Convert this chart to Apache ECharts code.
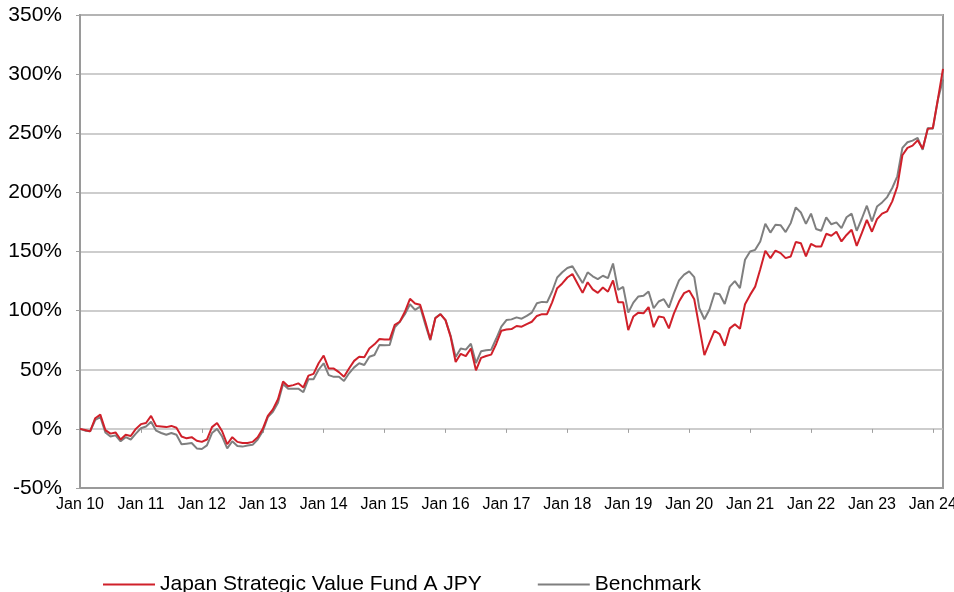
<!DOCTYPE html>
<html>
<head>
<meta charset="utf-8">
<script src="https://cdn.jsdelivr.net/npm/echarts@6/dist/echarts.min.js"></script>
<style>
  html, body { margin: 0; padding: 0; background: #fff; }
  #chart { width: 954px; height: 592px; }
</style>
</head>
<body>
<div id="chart"></div>
<script>
// monthly cumulative performance (%), Jan 2010 .. Mar 2024
const monthNames = ["Jan", "Feb", "Mar", "Apr", "May", "Jun", "Jul", "Aug", "Sep", "Oct", "Nov", "Dec"];
const years = ["10", "11", "12", "13", "14", "15", "16", "17", "18", "19", "20", "21", "22", "23", "24"];

const fund = [
  0, -1, -2, 9, 12, -1, -4, -3, -9, -5, -6, 0,
  4, 5, 11, 2.5, 2, 1.5, 2.5, 1, -6.5, -8, -7, -10,
  -11, -9, 1.5, 5, -2, -13, -7, -11, -12, -12, -11, -7,
  0, 11, 16.5, 25, 40, 36, 37, 38.5, 35, 45, 46.5, 55.5,
  62, 51, 51, 48, 44, 51, 57.5, 61, 60.5, 68, 71.5, 76,
  75.5, 75.5, 88, 90.6, 99, 110, 106, 105, 91, 75.5, 93.5, 97,
  92, 78, 56.5, 63.5, 61.5, 68, 49.5, 60, 61.6, 62.8, 72, 83,
  84, 84.4, 87, 86.4, 88.6, 90.6, 95.5, 97, 97, 107, 119, 123,
  128, 131, 123, 115, 124, 118, 115, 119.6, 116, 125.6, 107, 107,
  83.5, 95, 98.3, 97.7, 103, 86, 95, 94.3, 85, 97.7, 107.7, 114.8,
  117, 109.6, 86, 62.4, 72.9, 83, 80.2, 70.3, 85, 88.4, 84.7, 105.4,
  113.3, 120.3, 135, 150.6, 144.4, 150.8, 148.6, 144.4, 145.8, 158, 157, 145.8,
  156.5, 154.2, 154.2, 165, 163.3, 166.7, 158.5, 164, 168.4, 154.8, 165.5, 176.8,
  166.7, 177.4, 182, 184, 192.4, 205, 231.4, 237.6, 239.5, 244, 237, 253.7,
  254.5, 279, 304.5
];

const benchmark = [
  0, -1.5, -2, 7.5, 10, -3, -6.5, -5.5, -10.5, -7, -9, -4,
  0.5, 2, 6, -1.5, -3.5, -5, -3.5, -5, -13, -12.5, -12, -16.5,
  -17, -14, -3.5, 0, -6.5, -16.5, -10.5, -14.5, -15, -14, -13.5, -9,
  -2, 10, 14.5, 22, 38, 34, 34, 34, 31, 42, 42, 50,
  55.5, 45.5, 44, 44, 40.5, 47, 52, 55.5, 54, 61, 62.5, 71,
  70.7, 71, 85.8, 90.6, 97, 105.4, 100.6, 103.4, 88.6, 75, 94, 97,
  92, 79, 60.8, 68, 67, 72, 55.7, 65.6, 66.5, 67, 76.4, 86.4,
  92, 92.6, 94.3, 93.2, 95.5, 98.3, 106.2, 107.4, 107, 116.2, 128, 132.4,
  136, 137.5, 130.4, 123.3, 132.4, 129, 126.7, 129.5, 127.5, 139.8, 117.6, 120,
  98.3, 106.8, 112, 112.5, 116.2, 102, 107.7, 109.7, 102.6, 114.8, 125.6, 130.4,
  133.2, 128.4, 102, 92.7, 101, 114.7, 113.8, 105.6, 120.3, 125, 119, 143,
  150, 151.4, 158.5, 173.4, 166, 172.6, 172.3, 166.4, 174, 187.3, 183, 173.4,
  182, 169, 167.5, 178.8, 173, 174.6, 169.8, 179, 182, 167.5, 177.7, 188.7,
  175.4, 188, 191.5, 196, 203.7, 213.6, 237.6, 242.4, 243.8, 246, 236, 254.5,
  253.7, 278.5, 295.5
];

// category labels "Jan 10", "Feb 10", ...
const categories = [];
years.forEach((y) => {
  monthNames.forEach((m) => categories.push(m + " " + y));
});
categories.length = fund.length;

const chart = echarts.init(document.getElementById("chart"));
const font = "Liberation Sans, Arial, sans-serif";
const isJan = (idx) => idx % 12 === 0;

const option = {
  animation: false,
  backgroundColor: "#fff",
  grid: {
    left: 80, top: 15, right: 11, bottom: 104,
    outerBoundsMode: "none",
    containLabel: false,
    show: true, borderColor: "#9a9a9a", borderWidth: 2
  },
  legend: {
    top: 569,
    left: 98,
    icon: "rect",
    itemWidth: 52,
    itemHeight: 2,
    itemGap: 56,
    textStyle: { fontFamily: font, fontSize: 21, color: "#000" },
    data: ["Japan Strategic Value Fund A JPY", "Benchmark"]
  },
  xAxis: [
    {
      type: "category",
      data: categories,
      boundaryGap: false,
      axisLine: { onZero: false, lineStyle: { color: "#9a9a9a", width: 2 } },
      axisTick: { show: false },
      axisLabel: {
        interval: (idx) => isJan(idx),
        fontFamily: font, fontSize: 16, color: "#000", margin: 9,
        hideOverlap: false
      },
      splitLine: { show: false }
    },
    {
      // Excel-style axis crossing at 0%: ticks only
      type: "category",
      data: categories,
      boundaryGap: false,
      position: "bottom",
      axisLine: { show: false, onZero: true },
      axisTick: { show: true, interval: (idx) => isJan(idx), length: 4, lineStyle: { color: "#a0a0a0", width: 1 } },
      axisLabel: { show: false },
      splitLine: { show: false }
    }
  ],
  yAxis: {
    type: "value",
    min: -50, max: 350, interval: 50,
    axisLine: { show: true, lineStyle: { color: "#9a9a9a", width: 2 } },
    axisTick: { show: true, length: 4, lineStyle: { color: "#a0a0a0" } },
    axisLabel: {
      formatter: "{value}%",
      fontFamily: font, fontSize: 21, color: "#000", margin: 18
    },
    splitLine: { lineStyle: { color: "#bdbdbd", width: 1.5 } }
  },
  series: [
    {
      name: "Benchmark",
      type: "line",
      data: benchmark,
      showSymbol: false,
      lineStyle: { color: "#7f7f7f", width: 2 },
      itemStyle: { color: "#7f7f7f" }
    },
    {
      name: "Japan Strategic Value Fund A JPY",
      type: "line",
      data: fund,
      showSymbol: false,
      lineStyle: { color: "#d0202a", width: 2 },
      itemStyle: { color: "#d0202a" }
    }
  ]
};

chart.setOption(option);
</script>
</body>
</html>
